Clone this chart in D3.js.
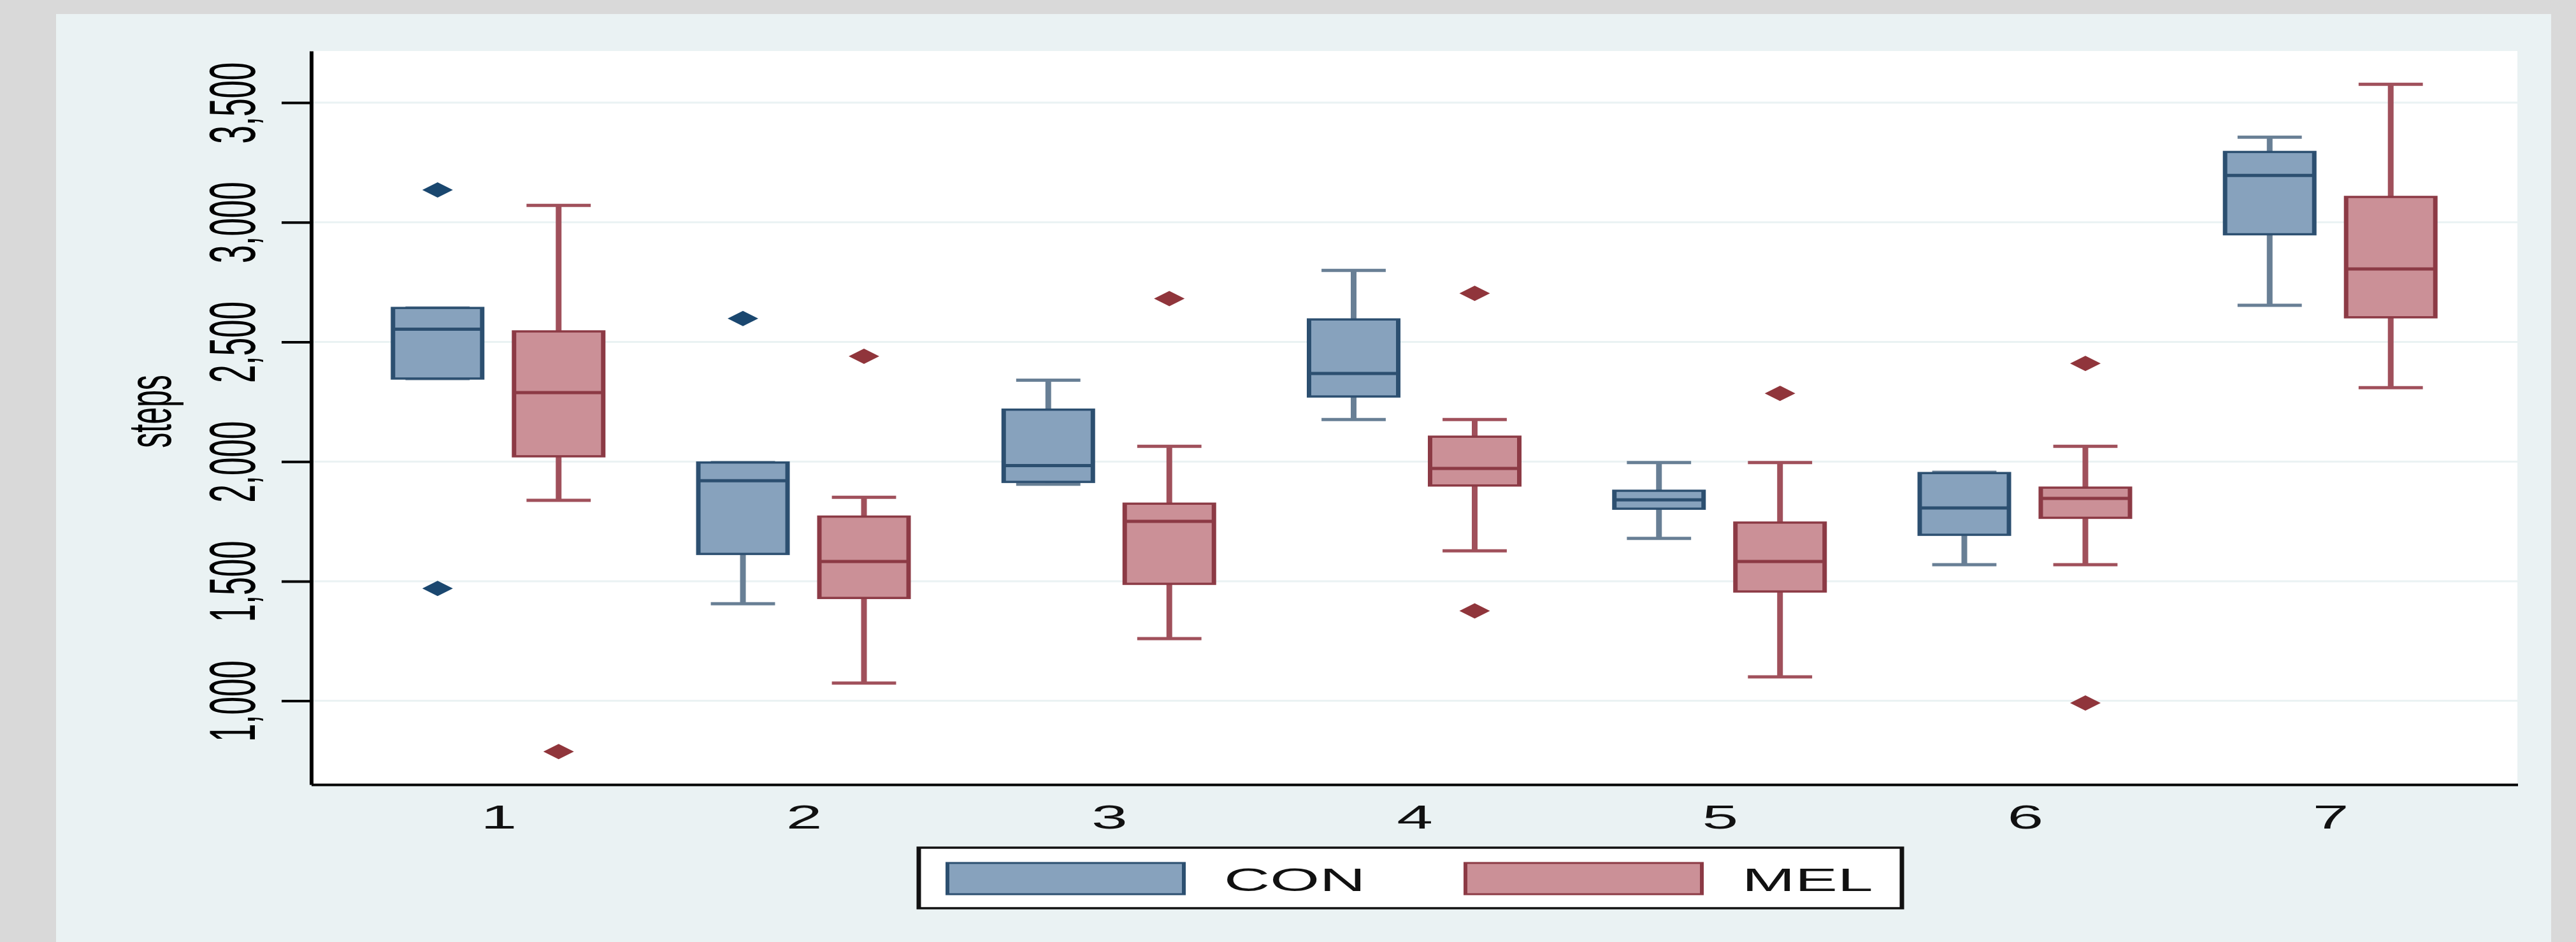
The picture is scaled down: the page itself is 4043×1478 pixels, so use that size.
<!DOCTYPE html>
<html>
<head>
<meta charset="utf-8">
<script src="https://cdn.jsdelivr.net/npm/d3@7"></script>
<style>
  body { margin: 0; background: #d9d9d9; }
  text { font-family: "Liberation Sans", Arial, sans-serif; }
</style>
</head>
<body>
<div id="chart"></div>
<script>
const width = 4043,
      height = 1478,
      stretch = 2; // the source picture is squashed sideways, so draw in half width and scale x

const groups = ["1", "2", "3", "4", "5", "6", "7"];
const series = ["CON", "MEL"];

// box summaries (steps)
const conLo  = [2347, 1406, 1905, 2176, 1679, 1569, 2653];
const conQ1  = [2347, 1614, 1915, 2272, 1803, 1694, 2950];
const conMed = [2553, 1920, 1983, 2368, 1840, 1806, 3196];
const conQ3  = [2642, 1996, 2217, 2594, 1878, 1952, 3294];
const conHi  = [2642, 1996, 2340, 2799, 1996, 1955, 3356];
const conOut = [[3135, 1470], [2598], [], [], [], [], []];

const melLo  = [1838, 1074, 1260, 1627, 1100, 1569, 2309];
const melQ1  = [2022, 1430, 1489, 1900, 1457, 1765, 2603];
const melMed = [2288, 1582, 1750, 1971, 1582, 1846, 2805];
const melQ3  = [2544, 1770, 1824, 2104, 1745, 1891, 3106];
const melHi  = [3071, 1851, 2064, 2176, 1996, 2064, 3577];
const melOut = [[788], [2440], [2681], [2703, 1376], [2285], [2410, 991], []];

const yTicks = [1000, 1500, 2000, 2500, 3000, 3500];

const fills   = { CON: "#87a2bd", MEL: "#cb9097" };
const strokes = { CON: "#2c4f70", MEL: "#8c3a45" };
const whisk   = { CON: "#687f95", MEL: "#a0505b" };
const dots    = { CON: "#1a476f", MEL: "#90353b" };

const rows = groups.flatMap((grp, i) => [
  { grp, s: "CON", lo: conLo[i], q1: conQ1[i], med: conMed[i], q3: conQ3[i], hi: conHi[i], out: conOut[i] },
  { grp, s: "MEL", lo: melLo[i], q1: melQ1[i], med: melMed[i], q3: melQ3[i], hi: melHi[i], out: melOut[i] }
]);

const svg = d3.select("#chart")
  .append("svg")
  .attr("width", width)
  .attr("height", height);

svg.append("rect").attr("width", width).attr("height", height).attr("fill", "#d9d9d9");
svg.append("rect")
  .attr("x", 88).attr("y", 22)
  .attr("width", 4004 - 88).attr("height", height - 22)
  .attr("fill", "#eaf2f3");

const g = svg.append("g").attr("transform", `scale(${stretch},1)`);

const plot = { left: 244, right: 1975.5, top: 80, bottom: 1231 };

g.append("rect")
  .attr("x", plot.left).attr("y", plot.top)
  .attr("width", plot.right - plot.left)
  .attr("height", plot.bottom - plot.top)
  .attr("fill", "#fff");

const y = d3.scaleLinear().domain([650, 3716]).range([plot.bottom, plot.top]);
const x = d3.scalePoint().domain(groups).range([plot.left, plot.right]).padding(0.613);
const sub = d3.scaleBand().domain(series).range([-82.5, 82.5]).paddingInner(0.263);
const bw = sub.bandwidth(),
      capW = bw * 0.72;
const cx = d => x(d.grp) + sub(d.s) + bw / 2;

// grid
g.selectAll("line.grid")
  .data(yTicks)
  .join("line")
  .attr("class", "grid")
  .attr("x1", plot.left).attr("x2", plot.right)
  .attr("y1", d => y(d)).attr("y2", d => y(d))
  .attr("stroke", "#eaf2f3")
  .attr("stroke-width", 3);

// whiskers
const wg = g.append("g");
rows.forEach(d => {
  const c = cx(d);
  [[d.lo, d.q1], [d.q3, d.hi]].forEach(([a, b]) => {
    if (a === b) return;
    wg.append("line")
      .attr("x1", c).attr("x2", c)
      .attr("y1", y(a)).attr("y2", y(b))
      .attr("stroke", whisk[d.s]).attr("stroke-width", 4.5);
  });
  [d.lo, d.hi].forEach(v => {
    wg.append("line")
      .attr("x1", c - capW / 2).attr("x2", c + capW / 2)
      .attr("y1", y(v)).attr("y2", y(v))
      .attr("stroke", whisk[d.s]).attr("stroke-width", 5);
  });
});

// boxes
g.selectAll("rect.box")
  .data(rows)
  .join("rect")
  .attr("class", "box")
  .attr("x", d => cx(d) - bw / 2)
  .attr("y", d => y(d.q3))
  .attr("width", bw)
  .attr("height", d => y(d.q1) - y(d.q3))
  .attr("fill", d => fills[d.s])
  .attr("stroke", d => strokes[d.s])
  .attr("stroke-width", 3.5);

g.selectAll("line.med")
  .data(rows)
  .join("line")
  .attr("class", "med")
  .attr("x1", d => cx(d) - bw / 2).attr("x2", d => cx(d) + bw / 2)
  .attr("y1", d => y(d.med)).attr("y2", d => y(d.med))
  .attr("stroke", d => strokes[d.s])
  .attr("stroke-width", 5);

// outside values
const diamond = r => `M0,${-r}L${r},0L0,${r}L${-r},0Z`;
g.selectAll("path.out")
  .data(rows.flatMap(d => d.out.map(v => ({ ...d, v }))))
  .join("path")
  .attr("class", "out")
  .attr("d", diamond(12))
  .attr("transform", d => `translate(${cx(d)},${y(d.v)})`)
  .attr("fill", d => dots[d.s]);

// y axis
const yAxis = g.append("g")
  .attr("transform", `translate(${plot.left},0)`)
  .call(d3.axisLeft(y).tickValues(yTicks).tickSizeInner(23).tickSizeOuter(0).tickFormat(d3.format(",")));
yAxis.select(".domain").attr("stroke", "#000").attr("stroke-width", 3);
yAxis.selectAll(".tick line").attr("stroke", "#000").attr("stroke-width", 4);
yAxis.selectAll(".tick text")
  .attr("x", 0).attr("dy", 0)
  .attr("text-anchor", "middle")
  .attr("transform", "translate(-44,0) rotate(-90)")
  .attr("font-size", 51)
  .attr("fill", "#000");

g.append("text")
  .attr("transform", `translate(134,${(plot.top + plot.bottom) / 2 - 10}) rotate(-90)`)
  .attr("text-anchor", "middle")
  .attr("font-size", 48)
  .attr("fill", "#000")
  .text("steps");

// x axis
const xAxis = g.append("g")
  .attr("transform", `translate(0,${plot.bottom})`)
  .call(d3.axisBottom(x).tickSizeInner(0).tickSizeOuter(0).tickPadding(33));
xAxis.select(".domain").attr("stroke", "#000").attr("stroke-width", 4);
xAxis.selectAll(".tick text").attr("font-size", 51).attr("fill", "#111");

// legend
const legend = g.append("g");
legend.append("rect")
  .attr("x", 721).attr("y", 1330)
  .attr("width", 771.5).attr("height", 95)
  .attr("fill", "#fff").attr("stroke", "#111").attr("stroke-width", 3.5);
const legX = { CON: 743.5, MEL: 1150 };
series.forEach(s => {
  legend.append("rect")
    .attr("x", legX[s]).attr("y", 1354)
    .attr("width", 185.5).attr("height", 49)
    .attr("fill", fills[s]).attr("stroke", strokes[s]).attr("stroke-width", 3);
  legend.append("text")
    .attr("x", legX[s] + 217).attr("y", 1398)
    .attr("font-size", 50)
    .attr("fill", "#111")
    .text(s);
});
</script>
</body>
</html>
